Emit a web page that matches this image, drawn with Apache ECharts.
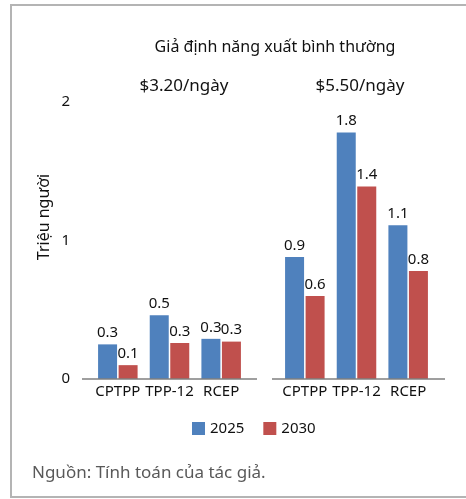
<!DOCTYPE html>
<html>
<head>
<meta charset="utf-8">
<script src="https://cdn.jsdelivr.net/npm/echarts@6/dist/echarts.min.js"></script>
<style>
  html, body { margin: 0; padding: 0; background: #fff; }
  #chart { width: 466px; height: 499px; }
</style>
</head>
<body>
<div id="chart"></div>
<script>
// Data
var categories = ['CPTPP', 'TPP-12', 'RCEP'];
var seriesNames = ['2025', '2030'];
var low2025 = [0.25, 0.46, 0.29];   // $3.20/ngày
var low2030 = [0.10, 0.26, 0.27];
var high2025 = [0.88, 1.78, 1.11];  // $5.50/ngày
var high2030 = [0.60, 1.39, 0.78];
var yTicks = [0, 1, 2];

var FONT = 'Noto Sans';
var blue = '#4F81BD';
var red = '#C0504D';
var axisColor = '#7f7f7f';
var txt = '#111';

var grids = [
    { left: 92, top: 102, width: 155, height: 277 },
    { left: 279, top: 102, width: 155, height: 277 }
];
// baseline drawn a bit wider than the categories, like the original
var baseY = grids[0].top + grids[0].height;
var baselines = [[82, 257], [272, 445]];

var myChart = echarts.init(document.getElementById('chart'));

function barSeries(name, data, idx, color) {
    return {
        name: name,
        type: 'bar',
        xAxisIndex: idx,
        yAxisIndex: idx,
        data: data,
        barWidth: 19,
        barGap: '8%',
        z: 2,
        itemStyle: { color: color },
        label: {
            show: true,
            position: 'top',
            distance: 4,
            color: txt,
            fontFamily: FONT,
            fontSize: 15,
            formatter: function (p) { return p.value.toFixed(1); }
        }
    };
}

function xAxisCfg(idx) {
    return {
        type: 'category',
        gridIndex: idx,
        data: categories,
        axisLine: { show: false },
        axisTick: { show: false },
        axisLabel: { color: txt, fontFamily: FONT, fontSize: 15, margin: 5, interval: 0 }
    };
}

function yAxisCfg(idx, showLabels) {
    return {
        type: 'value',
        gridIndex: idx,
        min: yTicks[0],
        max: yTicks[yTicks.length - 1],
        interval: 1,
        axisLine: { show: false },
        axisTick: { show: false },
        splitLine: { show: false },
        axisLabel: { show: showLabels, color: txt, fontFamily: FONT, fontSize: 15, margin: 22 }
    };
}

var graphics = [
    {
        type: 'rect',
        shape: { x: 11, y: 5, width: 470, height: 492 },
        style: { fill: 'none', stroke: '#b4b4b4', lineWidth: 2 },
        silent: true
    },
    {
        type: 'text', x: 275, y: 47,
        style: { text: 'Giả định năng xuất bình thường', fill: txt, font: '16px "Noto Sans"', textAlign: 'center', textVerticalAlign: 'middle' }
    },
    {
        type: 'text', x: 184, y: 86,
        style: { text: '$3.20/ngày', fill: txt, font: '17px "Noto Sans"', textAlign: 'center', textVerticalAlign: 'middle' }
    },
    {
        type: 'text', x: 360, y: 86,
        style: { text: '$5.50/ngày', fill: txt, font: '17px "Noto Sans"', textAlign: 'center', textVerticalAlign: 'middle' }
    },
    {
        type: 'text', x: 44, y: 217, rotation: Math.PI / 2,
        style: { text: 'Triệu người', fill: txt, font: '16px "Noto Sans"', textAlign: 'center', textVerticalAlign: 'middle' }
    },
    {
        type: 'text', x: 32, y: 473,
        style: { text: 'Nguồn: Tính toán của tác giả.', fill: '#595959', font: '17px "Noto Sans"', textAlign: 'left', textVerticalAlign: 'middle' }
    }
];
baselines.forEach(function (b) {
    graphics.push({
        type: 'line',
        z: 10,
        shape: { x1: b[0], y1: baseY, x2: b[1], y2: baseY },
        style: { stroke: axisColor, lineWidth: 1.5 },
        silent: true
    });
});

myChart.setOption({
    animation: false,
    textStyle: { fontFamily: FONT },
    grid: grids,
    xAxis: [xAxisCfg(0), xAxisCfg(1)],
    yAxis: [yAxisCfg(0, true), yAxisCfg(1, false)],
    legend: {
        left: 187,
        top: 416,
        itemWidth: 13,
        itemHeight: 13,
        itemGap: 19,
        icon: 'rect',
        data: seriesNames,
        textStyle: { color: txt, fontFamily: FONT, fontSize: 15 }
    },
    graphic: graphics,
    series: [
        barSeries(seriesNames[0], low2025, 0, blue),
        barSeries(seriesNames[1], low2030, 0, red),
        barSeries(seriesNames[0], high2025, 1, blue),
        barSeries(seriesNames[1], high2030, 1, red)
    ]
});
</script>
</body>
</html>
